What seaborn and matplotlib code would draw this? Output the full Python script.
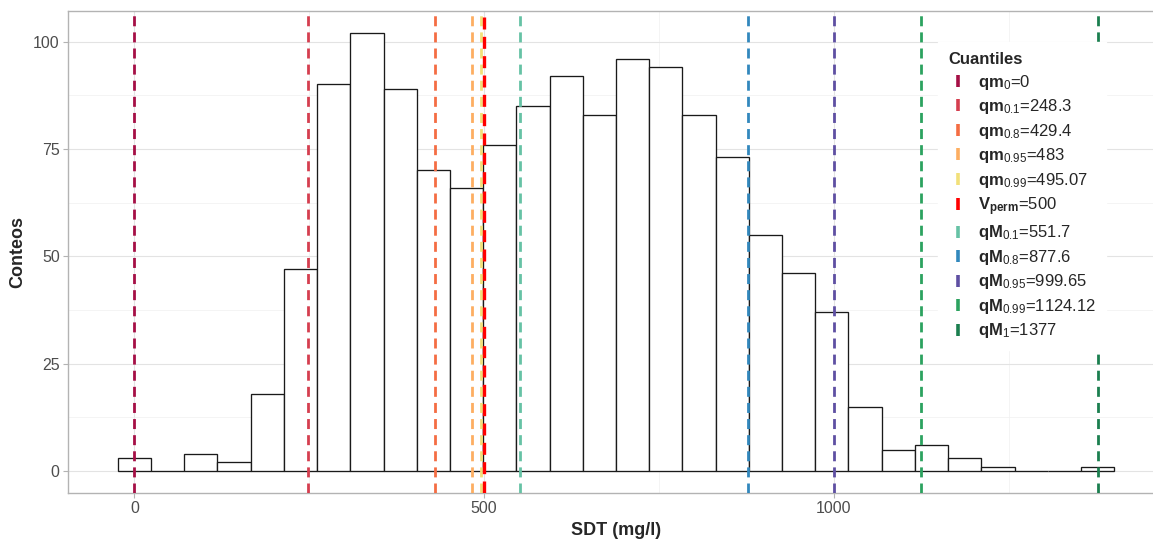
import numpy as np
import pandas as pd
import matplotlib
matplotlib.use("Agg")
import matplotlib.pyplot as plt
from matplotlib.lines import Line2D
import seaborn as sns

# ---------------- data ----------------
counts = [3, 0, 4, 2, 18, 47, 90, 102, 89, 70, 66, 76, 85, 92, 83,
          96, 94, 83, 73, 55, 46, 37, 15, 5, 6, 3, 1, 0, 0, 1]
sdt_min, sdt_max = 0, 1377
n_bins = 30

quantile_values = [0, 248.3, 429.4, 483, 495.07, 500, 551.7, 877.6, 999.65, 1124.12, 1377]
quantile_labels = [
    r"$\mathbf{qm}_{0}$=0",
    r"$\mathbf{qm}_{0.1}$=248.3",
    r"$\mathbf{qm}_{0.8}$=429.4",
    r"$\mathbf{qm}_{0.95}$=483",
    r"$\mathbf{qm}_{0.99}$=495.07",
    r"$\mathbf{V}_{\mathbf{perm}}$=500",
    r"$\mathbf{qM}_{0.1}$=551.7",
    r"$\mathbf{qM}_{0.8}$=877.6",
    r"$\mathbf{qM}_{0.95}$=999.65",
    r"$\mathbf{qM}_{0.99}$=1124.12",
    r"$\mathbf{qM}_{1}$=1377",
]
quantile_colors = ["#A50F45", "#D53E4F", "#F46D43", "#FDAE61", "#F2E07A", "#FF0000",
                   "#66C2A5", "#3288BD", "#5E4FA2", "#2CA25F", "#1B7F4F"]
x_ticks = [0, 500, 1000]
y_ticks = [0, 25, 50, 75, 100]

# bins like ggplot (bins = 30, centred on the range ends)
width = (sdt_max - sdt_min) / (n_bins - 1)
centers = np.linspace(sdt_min, sdt_max, n_bins)
edges = [float(c - width / 2) for c in centers] + [float(centers[-1] + width / 2)]
df = pd.DataFrame({"SDT": centers, "n": counts})

# ---------------- style ----------------
sns.set_theme(style="white")
plt.rcParams["font.family"] = ["Liberation Sans", "DejaVu Sans"]
plt.rcParams["mathtext.fontset"] = "custom"
plt.rcParams["mathtext.rm"] = "Liberation Sans"
plt.rcParams["mathtext.it"] = "Liberation Sans:italic"
plt.rcParams["mathtext.bf"] = "Liberation Sans:bold"

W, H = 1153, 541
fig = plt.figure(figsize=(W / 100, H / 100), dpi=100)
fig.patch.set_facecolor("white")
ax = fig.add_axes([68 / W, 48 / H, (1164 - 68) / W, (493 - 11) / H])

sns.histplot(data=df, x="SDT", weights="n", bins=edges, ax=ax,
             color="white", edgecolor="#1a1a1a", linewidth=0.95, alpha=1, zorder=2)

for v, c in zip(quantile_values, quantile_colors):
    lw = 2.4 if c == "#FF0000" else 2.0
    ax.axvline(v, color=c, lw=lw, dashes=(3.6, 2.2), zorder=3)

lo, hi = edges[0], edges[-1]
pad = 0.05 * (hi - lo)
ax.set_xlim(lo - pad, hi + pad)
ax.set_ylim(-0.05 * max(counts), 1.05 * max(counts))

ax.set_xticks(x_ticks)
ax.set_xticks([250, 750, 1250], minor=True)
ax.set_yticks(y_ticks)
ax.set_yticks([12.5, 37.5, 62.5, 87.5], minor=True)
ax.set_axisbelow(True)
ax.grid(which="major", color="#E3E3E3", lw=0.8, zorder=0)
ax.grid(which="minor", color="#F0F0F0", lw=0.5, zorder=0)

for s in ["left", "bottom", "top"]:
    ax.spines[s].set_color("#B3B3B3")
    ax.spines[s].set_linewidth(1.0)
ax.spines["right"].set_visible(False)
ax.tick_params(axis="both", which="major", length=3.5, width=0.8, color="#B3B3B3",
               labelcolor="#4D4D4D", labelsize=11.5, pad=2.5, left=True, bottom=True)
ax.tick_params(which="minor", length=0)

ax.set_xlabel("SDT (mg/l)", fontsize=13, fontweight="bold", labelpad=4)
ax.set_ylabel("Conteos", fontsize=13, fontweight="bold", labelpad=5)

handles = [Line2D([], [], color=c, marker="|", markersize=8.5, markeredgewidth=2.6,
                  linestyle="None") for c in quantile_colors]
leg = fig.legend(handles, quantile_labels, title="Cuantiles",
                 loc="upper left", bbox_to_anchor=(930 / W, 1 - 34 / H),
                 frameon=True, facecolor="white", edgecolor="white", framealpha=1,
                 fancybox=False, prop={"size": 12}, title_fontproperties={"size": 12, "weight": "bold"},
                 handlelength=1.2, handletextpad=0.55, labelspacing=0.33, borderpad=0.6,
                 alignment="left")
leg.set_zorder(10)

fig.savefig("out.png", dpi=100)
